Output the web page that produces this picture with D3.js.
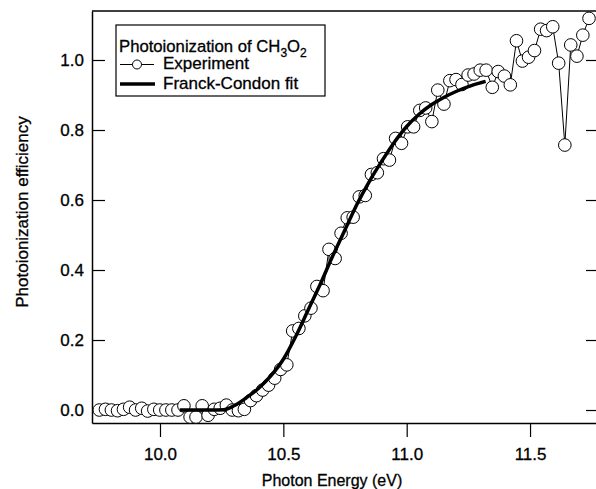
<!DOCTYPE html>
<html>
<head>
<meta charset="utf-8">
<script src="https://cdn.jsdelivr.net/npm/d3@7"></script>
<style>
  body { margin: 0; background: #fff; }
  svg { display: block; }
  text { font-family: "Liberation Sans", Arial, sans-serif; fill: #000; stroke: #000; stroke-width: 0.3px; }
</style>
</head>
<body>
<div id="wrapper"></div>
<script>
// photon energies (eV) of the measured points
const energy = [
  9.754, 9.779, 9.803, 9.828, 9.852, 9.877, 9.901, 9.926, 9.950, 9.975,
  9.999, 10.024, 10.048, 10.073, 10.097, 10.122, 10.146, 10.171, 10.195, 10.220,
  10.244, 10.269, 10.293, 10.318, 10.342, 10.367, 10.391, 10.416, 10.440, 10.465,
  10.489, 10.514, 10.538, 10.563, 10.587, 10.612, 10.636, 10.661, 10.685, 10.710,
  10.734, 10.759, 10.783, 10.808, 10.832, 10.857, 10.881, 10.906, 10.930, 10.955,
  10.979, 11.004, 11.028, 11.053, 11.077, 11.102, 11.126, 11.151, 11.175, 11.200,
  11.224, 11.249, 11.273, 11.298, 11.322, 11.347, 11.371, 11.396, 11.420, 11.445,
  11.469, 11.494, 11.518, 11.543, 11.567, 11.592, 11.616, 11.641, 11.665, 11.690,
  11.714, 11.739
]
// measured photoionization efficiency
const signal = [
  0.000, 0.002, 0.000, -0.002, 0.002, 0.008, 0.000, 0.005, -0.003, 0.002,
  0.000, 0.000, 0.000, 0.000, 0.012, -0.020, -0.020, 0.012, -0.015, 0.002,
  0.005, 0.014, 0.000, -0.002, 0.002, 0.027, 0.041, 0.057, 0.071, 0.091,
  0.116, 0.129, 0.226, 0.233, 0.269, 0.291, 0.353, 0.341, 0.459, 0.433,
  0.505, 0.549, 0.551, 0.609, 0.613, 0.673, 0.678, 0.718, 0.714, 0.776,
  0.762, 0.809, 0.809, 0.856, 0.863, 0.824, 0.914, 0.874, 0.941, 0.944,
  0.930, 0.957, 0.960, 0.971, 0.971, 0.922, 0.967, 0.954, 0.929, 1.055,
  0.997, 1.008, 1.027, 1.088, 1.084, 1.095, 0.991, 0.757, 1.043, 1.011,
  1.071, 1.119
]
// Franck-Condon fit
const fitEnergy = [10.08, 10.20, 10.26, 10.30, 10.35, 10.40, 10.45, 10.50, 10.55, 10.60,
  10.65, 10.70, 10.75, 10.80, 10.85, 10.90, 10.95, 11.00, 11.05, 11.10,
  11.15, 11.20, 11.25, 11.30, 11.32]
const fitValue = [0, 0, 0.001, 0.012, 0.035, 0.062, 0.098, 0.145, 0.21, 0.285,
  0.36, 0.44, 0.515, 0.59, 0.655, 0.712, 0.765, 0.81, 0.845, 0.872,
  0.893, 0.91, 0.924, 0.935, 0.939]

const xTicks = [10.0, 10.5, 11.0, 11.5]
const yTicks = [0.0, 0.2, 0.4, 0.6, 0.8, 1.0]
const xDomain = [9.7244, 11.7714]
const yDomain = [-0.0371, 1.1400]

const dms = {
  width: 596,
  height: 489,
  margin: { top: 11, right: -1, bottom: 66, left: 92 },
}
dms.boundedWidth = dms.width - dms.margin.left - dms.margin.right
dms.boundedHeight = dms.height - dms.margin.top - dms.margin.bottom

const svg = d3.select("#wrapper")
  .append("svg")
    .attr("width", dms.width)
    .attr("height", dms.height)

const bounds = svg.append("g")
  .attr("transform", `translate(${dms.margin.left},${dms.margin.top})`)

const xScale = d3.scaleLinear()
  .domain(xDomain)
  .range([0, dms.boundedWidth])

const yScale = d3.scaleLinear()
  .domain(yDomain)
  .range([dms.boundedHeight, 0])

const fmt = d3.format(".1f")

// axes
const xAxis = bounds.append("g")
  .attr("transform", `translate(0,${dms.boundedHeight})`)
  .call(d3.axisBottom(xScale).tickValues(xTicks).tickFormat(fmt)
    .tickSizeInner(14).tickSizeOuter(0).tickPadding(11))

const yAxis = bounds.append("g")
  .call(d3.axisLeft(yScale).tickValues(yTicks).tickFormat(fmt)
    .tickSizeInner(-13).tickSizeOuter(0).tickPadding(8))

const yAxisRight = bounds.append("g")
  .attr("transform", `translate(${dms.boundedWidth},0)`)
  .call(d3.axisRight(yScale).tickValues(yTicks).tickFormat("")
    .tickSizeInner(-11).tickSizeOuter(0))

bounds.append("line")
  .attr("x1", 0).attr("x2", dms.boundedWidth)
  .attr("y1", 0).attr("y2", 0)
  .attr("stroke", "#000").attr("stroke-width", 1.5)

bounds.selectAll(".domain").attr("stroke", "#000").attr("stroke-width", 1.5)
bounds.selectAll(".tick line").attr("stroke", "#000").attr("stroke-width", 1.2)
bounds.selectAll(".tick text")
  .attr("font-size", 17)
  .style("font-family", "'Liberation Sans', Arial, sans-serif")

// axis titles
svg.append("text")
  .attr("x", 332)
  .attr("y", 486)
  .attr("text-anchor", "middle")
  .attr("font-size", 16)
  .text("Photon Energy (eV)")

svg.append("text")
  .attr("transform", "translate(28,212) rotate(-90)")
  .attr("text-anchor", "middle")
  .attr("font-size", 17)
  .text("Photoionization efficiency")

// experiment: thin connecting line + open circles
const expData = energy.map((e, i) => ({ e: e, v: signal[i] }))

const expLine = d3.line()
  .x(d => xScale(d.e))
  .y(d => yScale(d.v))

bounds.append("path")
  .datum(expData)
  .attr("d", expLine)
  .attr("fill", "none")
  .attr("stroke", "#000")
  .attr("stroke-width", 1)

bounds.append("g")
  .selectAll("circle")
  .data(expData)
  .join("circle")
    .attr("cx", d => xScale(d.e))
    .attr("cy", d => yScale(d.v))
    .attr("r", 6.3)
    .attr("fill", "#fff")
    .attr("stroke", "#000")
    .attr("stroke-width", 1)

// Franck-Condon fit on top
const fitData = fitEnergy.map((e, i) => ({ e: e, v: fitValue[i] }))

bounds.append("path")
  .datum(fitData)
  .attr("d", d3.line().x(d => xScale(d.e)).y(d => yScale(d.v)).curve(d3.curveMonotoneX))
  .attr("fill", "none")
  .attr("stroke", "#000")
  .attr("stroke-width", 3.5)

// legend
const legend = svg.append("g")
  .attr("transform", "translate(116,25)")

legend.append("rect")
  .attr("width", 209)
  .attr("height", 71)
  .attr("fill", "#fff")
  .attr("stroke", "#000")
  .attr("stroke-width", 1.2)

const title = legend.append("text")
  .attr("x", 3)
  .attr("y", 27)
  .attr("font-size", 16.7)
title.append("tspan").text("Photoionization of CH")
title.append("tspan").attr("font-size", 12).attr("dy", 5).text("3")
title.append("tspan").attr("dy", -5).text("O")
title.append("tspan").attr("font-size", 12).attr("dy", 5).text("2")

legend.append("line")
  .attr("x1", 4).attr("x2", 38)
  .attr("y1", 39.5).attr("y2", 39.5)
  .attr("stroke", "#000").attr("stroke-width", 1)
legend.append("circle")
  .attr("cx", 21).attr("cy", 39.5).attr("r", 4.5)
  .attr("fill", "#fff").attr("stroke", "#000").attr("stroke-width", 1)
legend.append("text")
  .attr("x", 47).attr("y", 44)
  .attr("font-size", 17)
  .text("Experiment")

legend.append("line")
  .attr("x1", 4).attr("x2", 39)
  .attr("y1", 59).attr("y2", 59)
  .attr("stroke", "#000").attr("stroke-width", 3.5)
legend.append("text")
  .attr("x", 47).attr("y", 64)
  .attr("font-size", 17)
  .text("Franck-Condon fit")
</script>
</body>
</html>
